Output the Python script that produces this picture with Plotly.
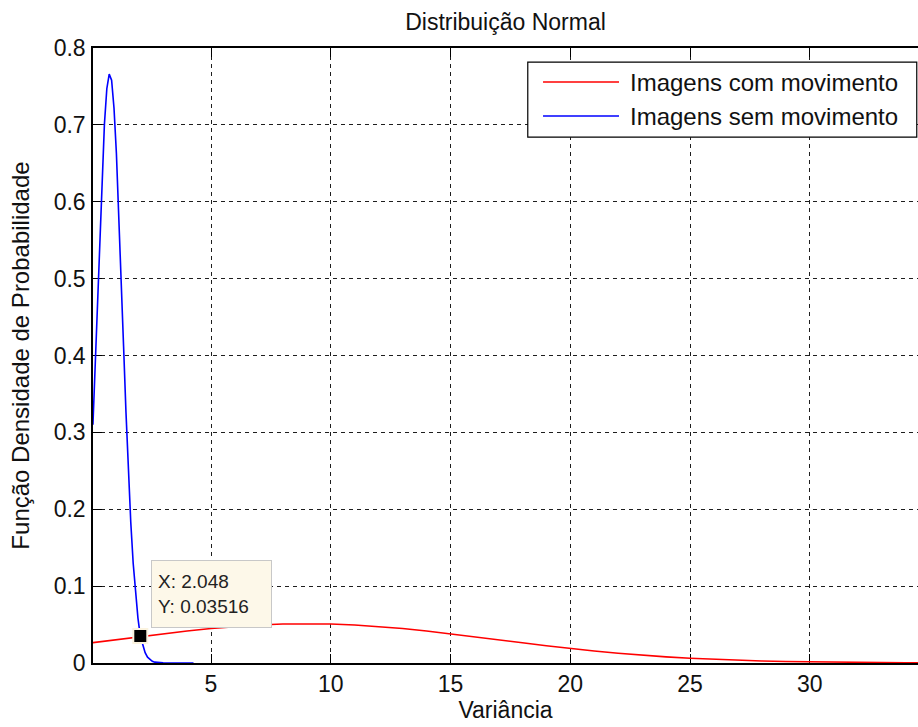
import plotly.graph_objects as go

# Curve samples (variance vs probability density)
sem_mov_x = [0.07, 0.15, 0.25, 0.35, 0.45, 0.55, 0.65, 0.75, 0.85, 0.95, 1.05, 1.15,
             1.25, 1.35, 1.45, 1.55, 1.65, 1.75, 1.85, 1.95, 2.048, 2.15, 2.25, 2.35,
             2.45, 2.55, 2.65, 2.8, 3.0, 3.3, 3.6, 3.9, 4.27]
sem_mov_y = [0.310, 0.377, 0.465, 0.554, 0.635, 0.701, 0.747, 0.766, 0.758, 0.722, 0.663, 0.587,
             0.501, 0.412, 0.326, 0.249, 0.183, 0.130, 0.0887, 0.0584, 0.03516, 0.0227, 0.0134, 0.0076,
             0.0042, 0.0022, 0.0011, 0.0004, 0.0001, 0.0, 0.0, 0.0, 0.0]

com_mov_x = [0.07, 1, 2, 3, 4, 5, 6, 7, 8, 9, 10, 11, 12, 13, 14, 15, 16, 17, 18, 19, 20,
             21, 22, 23, 24, 25, 26, 27, 28, 29, 30, 31, 32, 33, 34, 34.6]
com_mov_y = [0.0265, 0.0302, 0.0342, 0.0380, 0.0416, 0.0448, 0.0475, 0.0494, 0.0507, 0.0511,
             0.0507, 0.0494, 0.0475, 0.0448, 0.0416, 0.0380, 0.0342, 0.0302, 0.0263, 0.0225,
             0.0189, 0.0157, 0.0127, 0.0102, 0.0080, 0.0062, 0.0047, 0.0036, 0.0026, 0.0019,
             0.0014, 0.0010, 0.0007, 0.0004, 0.0003, 0.0002]

nome_com = "Imagens com movimento"
nome_sem = "Imagens sem movimento"

x_ticks = [5, 10, 15, 20, 25, 30]
y_ticks = [0, 0.1, 0.2, 0.3, 0.4, 0.5, 0.6, 0.7, 0.8]
y_tick_text = ["0", "0.1", "0.2", "0.3", "0.4", "0.5", "0.6", "0.7", "0.8"]

# Data cursor point
tip_x = 2.048
tip_y = 0.03516

FONT = "Liberation Sans, Arial, Helvetica, sans-serif"
TXT = "#111111"

fig = go.Figure()
fig.add_trace(go.Scatter(x=com_mov_x, y=com_mov_y, mode="lines", name=nome_com,
                         line=dict(color="#ff0000", width=1.6), showlegend=False))
fig.add_trace(go.Scatter(x=sem_mov_x, y=sem_mov_y, mode="lines", name=nome_sem,
                         line=dict(color="#0000ff", width=1.6), showlegend=False))
fig.add_trace(go.Scatter(x=[tip_x], y=[tip_y], mode="markers", showlegend=False,
                         marker=dict(symbol="square", size=14, color="black",
                                     line=dict(color="#fbf3df", width=2)),
                         cliponaxis=False))

fig.add_annotation(x=tip_x, y=tip_y, xref="x", yref="y",
                   text=f"X: {tip_x}<br>Y: {tip_y}", showarrow=False,
                   xanchor="left", yanchor="bottom", xshift=11, yshift=8,
                   align="left", font=dict(family=FONT, size=19, color="#222"),
                   bgcolor="#fdf8e9", bordercolor="#c8c8c8", borderwidth=1,
                   borderpad=6, width=107, height=54)

# Legend box
fig.add_shape(type="rect", xref="paper", yref="paper", x0=0.527, x1=0.9985, y0=0.855, y1=0.977,
              line=dict(color="black", width=1.2), fillcolor="white", layer="above")
for yy, col, nm in [(0.9447, "#ff0000", nome_com), (0.8894, "#0000ff", nome_sem)]:
    fig.add_shape(type="line", xref="paper", yref="paper", x0=0.5455, x1=0.6376, y0=yy, y1=yy,
                  line=dict(color=col, width=1.6), layer="above")
    fig.add_annotation(xref="paper", yref="paper", x=0.6485, y=yy, text=nm, showarrow=False,
                       xanchor="left", yanchor="middle",
                       font=dict(family=FONT, size=24, color=TXT))

axis_common = dict(showline=True, linecolor="black", linewidth=1.5, ticks="inside",
                   ticklen=9, tickwidth=1.2, tickcolor="black", showgrid=True,
                   gridcolor="#1e1e1e", gridwidth=1.1, griddash="4px,4px", zeroline=False,
                   layer="below traces", tickfont=dict(family=FONT, size=23, color=TXT))

fig.update_xaxes(range=[0.073, 34.52], tickvals=x_ticks, mirror="ticks",
                 title=dict(text="Variância", font=dict(family=FONT, size=23, color=TXT), standoff=3),
                 **axis_common)
fig.update_yaxes(range=[0, 0.8], tickvals=y_ticks, ticktext=y_tick_text, mirror=False,
                 ticklabelstandoff=1,
                 title=dict(text="Função Densidade de Probabilidade",
                            font=dict(family=FONT, size=24, color=TXT), standoff=17),
                 **axis_common)

fig.update_layout(
    width=918, height=727,
    margin=dict(l=93, r=0, t=48, b=64),
    paper_bgcolor="white", plot_bgcolor="white",
    title=dict(text="Distribuição Normal", x=0.5, xref="paper", xanchor="center",
               y=1 - 22 / 727, yref="container", yanchor="middle",
               font=dict(family=FONT, size=23, color=TXT)),
)

fig.write_html("out.html")
